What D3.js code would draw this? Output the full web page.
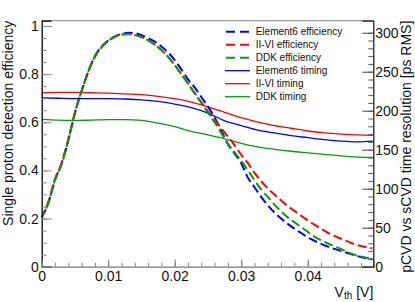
<!DOCTYPE html>
<html><head><meta charset="utf-8">
<script src="https://cdn.jsdelivr.net/npm/d3@7"></script>
<style>
body{margin:0;background:#fff;}
svg text{font-family:"Liberation Sans",Arial,Helvetica,sans-serif;}
</style></head>
<body><svg id="c" width="415" height="302"></svg>
<script>
// ---------- data ----------
const vthEff = [0,0.001,0.002,0.003,0.004,0.005,0.006,0.007,0.008,0.009,0.010,0.011,0.012,0.013,0.014,0.015,0.016,0.017,0.018,0.019,0.020,0.021,0.022,0.023,0.024,0.025,0.026,0.027,0.028,0.029,0.030,0.031,0.032,0.033,0.034,0.035,0.036,0.037,0.038,0.039,0.040,0.041,0.042,0.043,0.044,0.045,0.046,0.047,0.048,0.049,0.0497];
const effElement6 = [0.205,0.265,0.36,0.43,0.525,0.64,0.73,0.81,0.875,0.915,0.94,0.957,0.967,0.972,0.970,0.962,0.95,0.935,0.915,0.89,0.858,0.82,0.778,0.745,0.705,0.665,0.62,0.565,0.51,0.47,0.43,0.37,0.33,0.29,0.255,0.225,0.20,0.178,0.158,0.14,0.122,0.108,0.095,0.084,0.074,0.065,0.057,0.048,0.04,0.034,0.031];
const effIIVI     = [0.205,0.27,0.365,0.43,0.53,0.64,0.73,0.81,0.872,0.912,0.938,0.955,0.965,0.967,0.963,0.954,0.941,0.923,0.90,0.872,0.838,0.80,0.762,0.722,0.684,0.645,0.61,0.575,0.54,0.505,0.465,0.43,0.39,0.355,0.325,0.30,0.275,0.252,0.232,0.212,0.192,0.175,0.158,0.142,0.128,0.116,0.105,0.094,0.086,0.08,0.076];
const effDDK      = [0.205,0.265,0.36,0.425,0.525,0.64,0.73,0.81,0.872,0.912,0.938,0.955,0.965,0.966,0.962,0.953,0.94,0.922,0.90,0.872,0.838,0.80,0.76,0.72,0.68,0.64,0.60,0.555,0.51,0.475,0.44,0.40,0.36,0.32,0.29,0.258,0.23,0.205,0.185,0.165,0.145,0.125,0.11,0.097,0.085,0.074,0.060,0.050,0.042,0.036,0.033];

const vthTime = [0,0.0025,0.005,0.0075,0.01,0.0125,0.015,0.0175,0.02,0.0225,0.025,0.0275,0.03,0.0325,0.035,0.0375,0.04,0.0425,0.045,0.0475,0.0498];
const timeElement6 = [216.5,216,215.5,215.5,215.5,215,214,212,208.5,204,197,187,181,175,171.5,168,165.5,163,161,160,161];
const timeIIVI     = [223,223.5,223.5,223,222.5,221.5,220.5,218.5,215.5,211,205,198,191,185.5,181,177.5,174,171.5,170,169,168.5];
const timeDDK      = [189,188,187.5,188,188.5,188.5,187.5,184,179.5,173.5,169,164,158,153.5,150.5,148,146,144,142,140.5,140];

const legendLabels = ["Element6 efficiency","II-VI efficiency","DDK efficiency","Element6 timing","II-VI timing","DDK timing"];
const seriesColors = ["#0000ff","#ff0000","#0a9a0a"];

const xTicks = [0,0.01,0.02,0.03,0.04];
const xTickLabels = ["0","0.01","0.02","0.03","0.04"];
const yLTicks = [0,0.2,0.4,0.6,0.8,1];
const yLTickLabels = ["0","0.2","0.4","0.6","0.8","1"];
const yRTicks = [0,50,100,150,200,250,300];

// ---------- layout ----------
const L=41.7,R=373.3,T=20.7,B=266.7;
const svg=d3.select("#c");
const x=d3.scaleLinear().domain([0,0.04986]).range([L,R]);
const yL=d3.scaleLinear().domain([0,1.022]).range([B,T]);
const yR=d3.scaleLinear().domain([0,315.4]).range([B,T]);

// timing curves (solid, right axis)
const timing=[timeElement6,timeIIVI,timeDDK];
const lineT=d3.line().x(d=>x(d[0])).y(d=>yR(d[1])).curve(d3.curveMonotoneX);
timing.forEach((s,i)=>{
  svg.append("path").attr("d",lineT(vthTime.map((v,j)=>[v,s[j]])))
    .attr("fill","none").attr("stroke",seriesColors[i]).attr("stroke-width",1.3);
});
// efficiency curves (dashed, left axis)
const eff=[effElement6,effIIVI,effDDK];
const lineE=d3.line().x(d=>x(d[0])).y(d=>yL(d[1])).curve(d3.curveMonotoneX);
eff.forEach((s,i)=>{
  svg.append("path").attr("d",lineE(vthEff.map((v,j)=>[v,s[j]])))
    .attr("fill","none").attr("stroke",seriesColors[i]).attr("stroke-width",2)
    .attr("stroke-dasharray","9,4").attr("stroke-dashoffset",i*1.5);
});

// frame top
svg.append("line").attr("x1",L).attr("x2",R).attr("y1",T).attr("y2",T).attr("stroke","#999").attr("stroke-width",1.3);

function style(g,col,fs){
  g.selectAll("text").attr("font-size",fs).attr("fill","#111").attr("font-family",'"Liberation Sans",Arial,sans-serif');
  g.selectAll(".tick line").attr("stroke",col);
}
// left axis
const gl=svg.append("g").attr("transform",`translate(${L},0)`)
  .call(d3.axisLeft(yL).tickValues(yLTicks).tickFormat((d,i)=>yLTickLabels[i]).tickSize(-10).tickPadding(3));
gl.select(".domain").attr("stroke","#000").attr("stroke-width",1.3);
style(gl,"#888","14px");
const glm=svg.append("g").attr("transform",`translate(${L},0)`)
  .call(d3.axisLeft(yL).tickValues(d3.range(0,1.0001,0.05)).tickFormat("").tickSize(-5));
glm.select(".domain").remove(); glm.selectAll("line").attr("stroke","#888");

// bottom axis
const gb=svg.append("g").attr("transform",`translate(0,${B})`)
  .call(d3.axisBottom(x).tickValues(xTicks).tickFormat((d,i)=>xTickLabels[i]).tickSize(-7).tickPadding(4));
gb.select(".domain").attr("stroke","#777").attr("stroke-width",1.3);
style(gb,"#666","14px");
const gbm=svg.append("g").attr("transform",`translate(0,${B})`)
  .call(d3.axisBottom(x).tickValues(d3.range(0,0.0499,0.002)).tickFormat("").tickSize(-4));
gbm.select(".domain").remove(); gbm.selectAll("line").attr("stroke","#888");

// right axis
const gr=svg.append("g").attr("transform",`translate(${R},0)`)
  .call(d3.axisRight(yR).tickValues(yRTicks).tickSize(-11).tickPadding(2));
gr.select(".domain").attr("stroke","#222").attr("stroke-width",1.3);
style(gr,"#444","14px");
const grm=svg.append("g").attr("transform",`translate(${R},0)`)
  .call(d3.axisRight(yR).tickValues(d3.range(0,310,10)).tickFormat("").tickSize(-5));
grm.select(".domain").remove(); grm.selectAll("line").attr("stroke","#555");

// axis titles
svg.append("text").attr("transform",`translate(12.5,${T})rotate(-90)`).attr("text-anchor","end")
  .attr("font-size","14px").attr("fill","#111").text("Single proton detection efficiency");
svg.append("text").attr("transform",`translate(410.5,${T})rotate(-90)`).attr("text-anchor","end")
  .attr("font-size","14px").attr("fill","#111").text("pCVD vs sCVD time resolution [ps RMS]");
const xt=svg.append("text").attr("x",R).attr("y",296.5).attr("text-anchor","end").attr("font-size","14px").attr("fill","#111");
xt.append("tspan").text("V");
xt.append("tspan").attr("font-size","10px").attr("dy",2).text("th");
xt.append("tspan").attr("dy",-2).text(" [V]");

// legend
const lg=svg.append("g");
legendLabels.forEach((lab,i)=>{
  const yy=31.7+i*13;
  const ln=lg.append("line").attr("x1",225).attr("x2",250).attr("y1",yy).attr("y2",yy)
    .attr("stroke",seriesColors[i%3]).attr("stroke-width",i<3?2:1.3);
  if(i<3) ln.attr("stroke-dasharray","9,5").attr("stroke-dashoffset",-1);
  lg.append("text").attr("x",255.7).attr("y",yy).attr("dy","0.35em").attr("font-size","10px").attr("fill","#111").text(lab);
});
</script></body></html>
